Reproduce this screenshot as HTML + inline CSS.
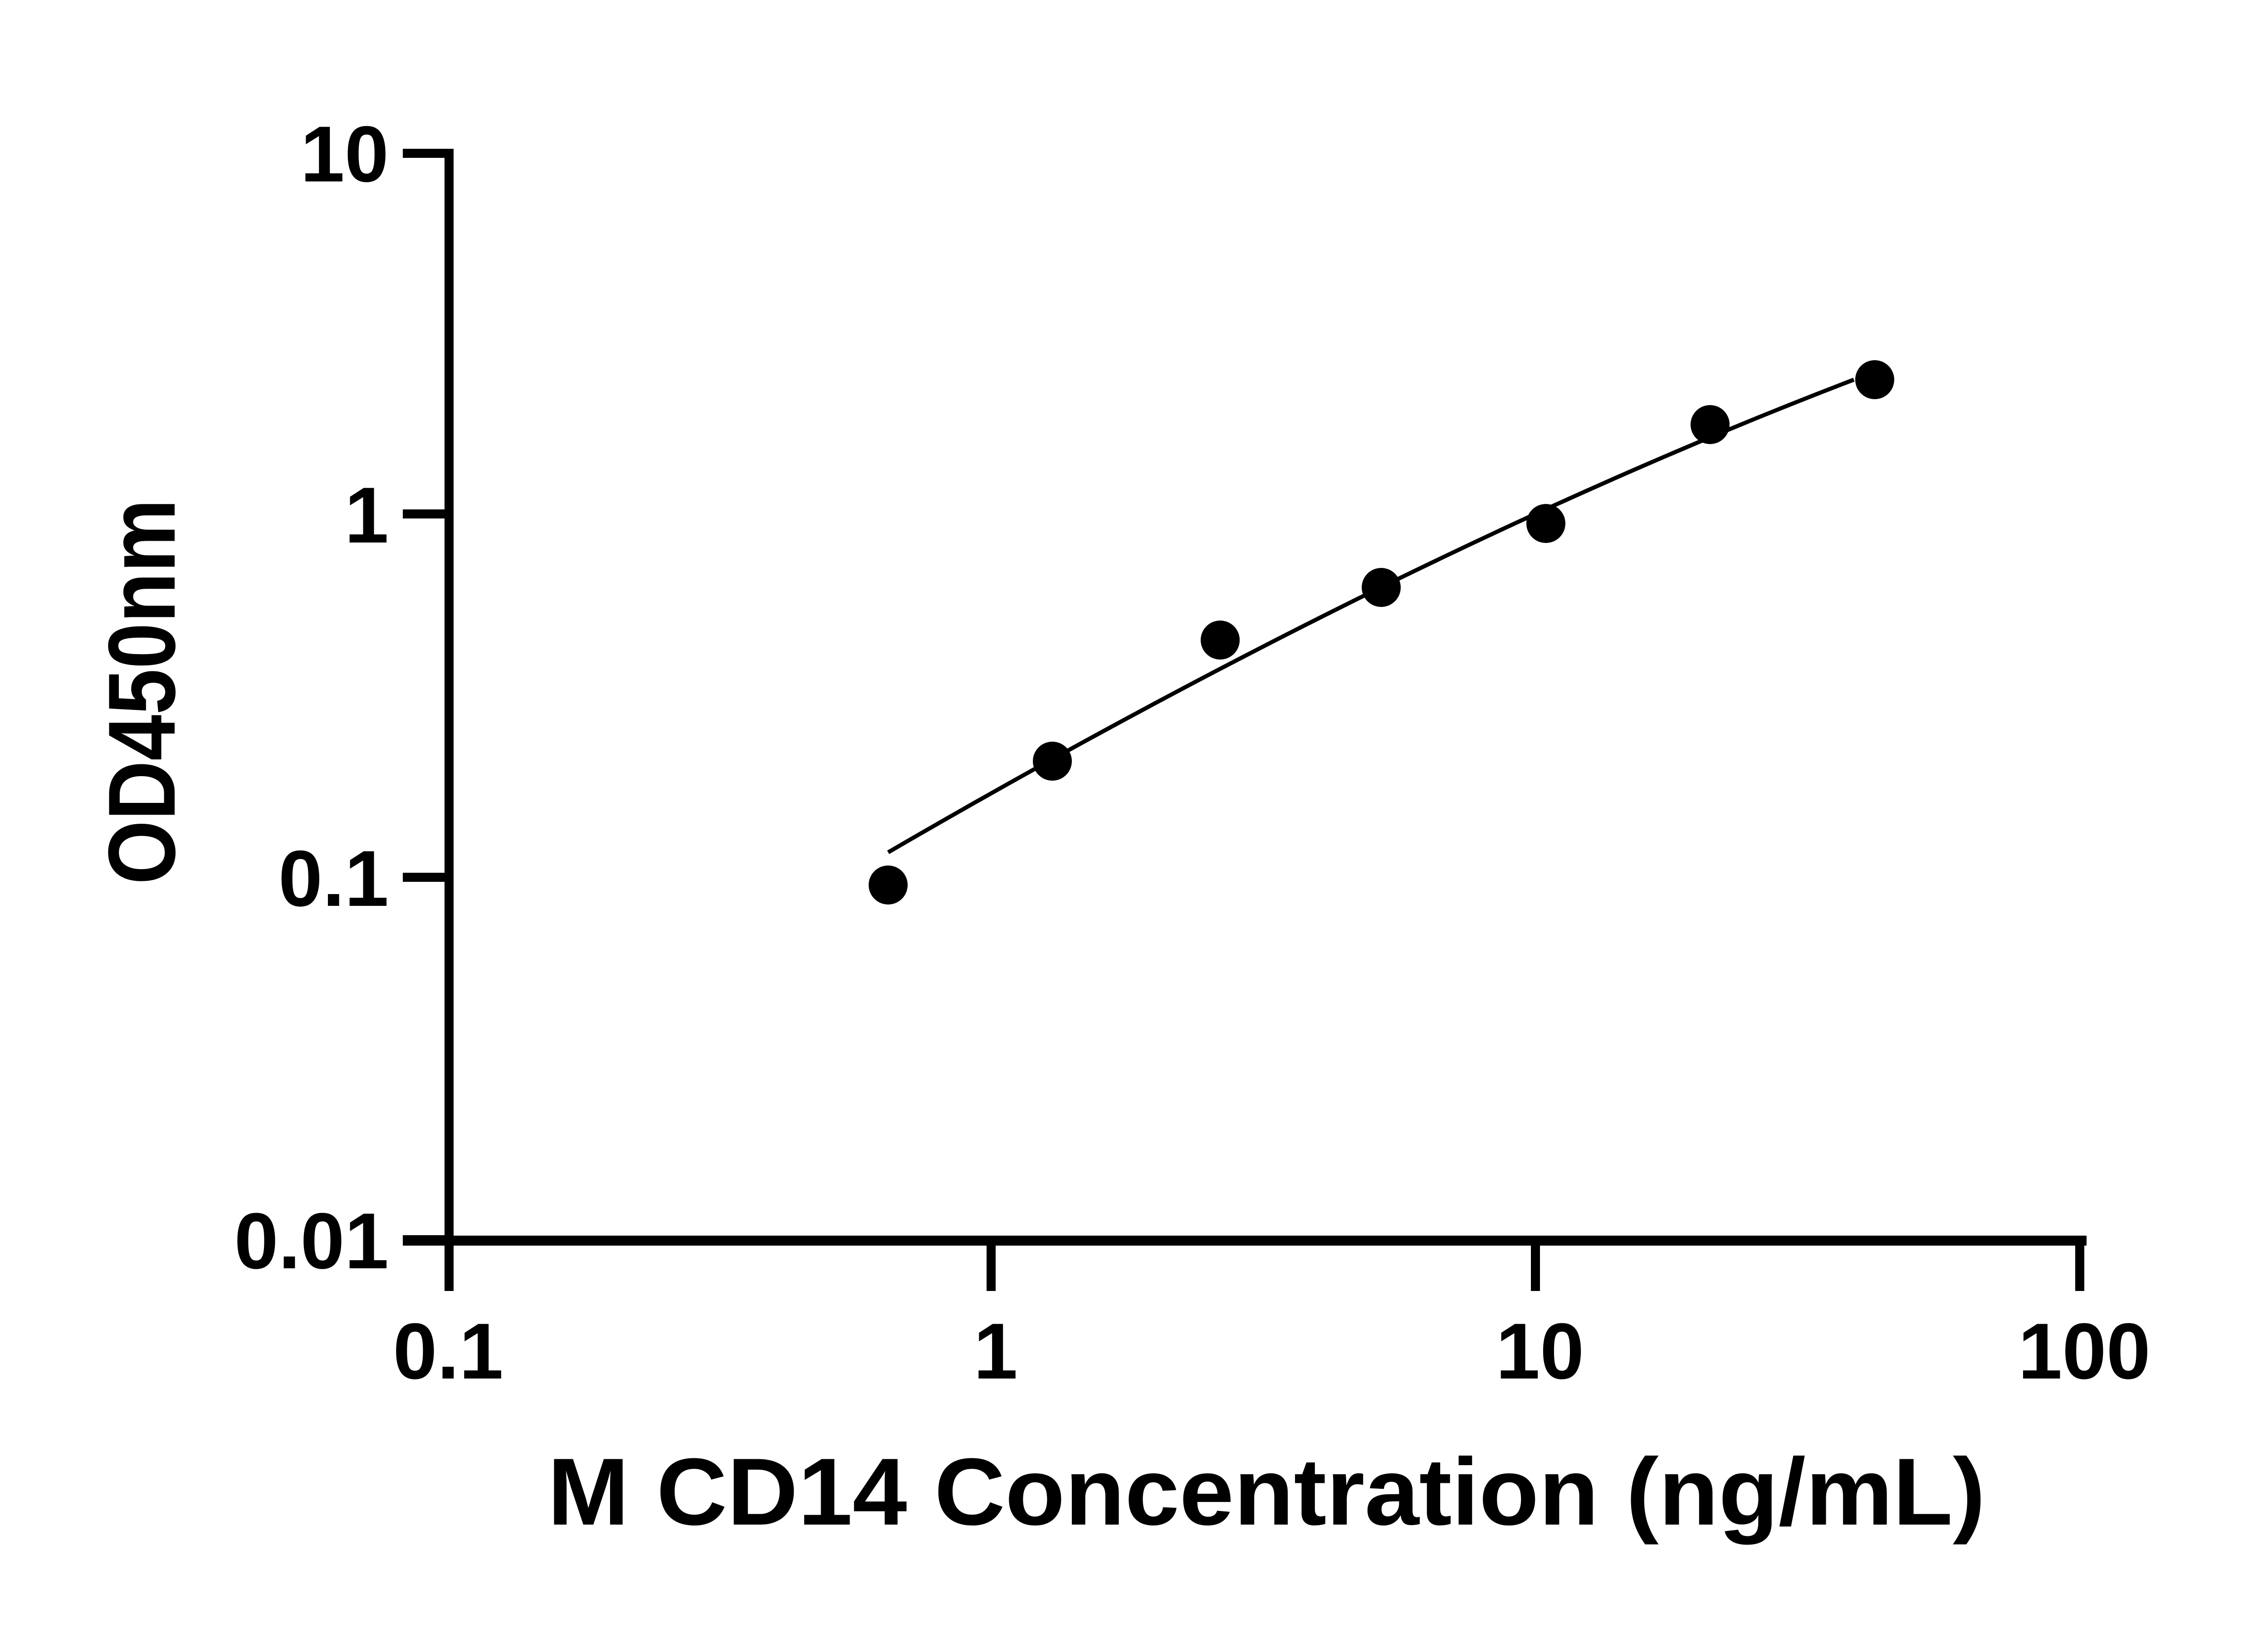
<!DOCTYPE html>
<html><head><style>html,body{margin:0;padding:0;background:#fff}</style></head>
<body>
<svg width="5142" height="3600" xmlns="http://www.w3.org/2000/svg" style="display:block">
<rect width="5142" height="3600" fill="#fff"/>
<g stroke="#000" stroke-width="20" fill="none">
<line x1="990" y1="328" x2="990" y2="2846"/>
<line x1="888" y1="2735" x2="4600" y2="2735" stroke-width="22"/>
<line x1="888" y1="338" x2="990" y2="338"/>
<line x1="888" y1="1133" x2="990" y2="1133"/>
<line x1="888" y1="1934" x2="990" y2="1934"/>
<line x1="888" y1="2733" x2="990" y2="2733"/>
<line x1="2185" y1="2735" x2="2185" y2="2846"/>
<line x1="3385" y1="2735" x2="3385" y2="2846"/>
<line x1="4585" y1="2725" x2="4585" y2="2846"/>
</g>
<path d="M1958,1879 Q3100,1215 4087,837" stroke="#000" stroke-width="9" fill="none"/>
<g fill="#000">
<circle cx="1958" cy="1951" r="43"/>
<circle cx="2320" cy="1678" r="43"/>
<circle cx="2690" cy="1411" r="43"/>
<circle cx="3045" cy="1295" r="43"/>
<circle cx="3408" cy="1154" r="43"/>
<circle cx="3770" cy="936" r="43"/>
<circle cx="4133" cy="837" r="43"/>
</g>
<g font-family="Liberation Sans, sans-serif" font-weight="bold" font-size="175" fill="#000">
<text x="857" y="400" text-anchor="end">10</text>
<text x="857" y="1196" text-anchor="end">1</text>
<text x="857" y="1997" text-anchor="end">0.1</text>
<text x="857" y="2796" text-anchor="end">0.01</text>
<text x="988" y="3039" text-anchor="middle">0.1</text>
<text x="2195" y="3039" text-anchor="middle">1</text>
<text x="3395" y="3039" text-anchor="middle">10</text>
<text x="4595" y="3039" text-anchor="middle">100</text>
</g>
<text x="2792" y="3361" text-anchor="middle" font-family="Liberation Sans, sans-serif" font-weight="bold" font-size="210" textLength="3170" lengthAdjust="spacingAndGlyphs">M CD14 Concentration (ng/mL)</text>
<text transform="translate(385,1525) rotate(-90)" text-anchor="middle" font-family="Liberation Sans, sans-serif" font-weight="bold" font-size="210" textLength="850" lengthAdjust="spacingAndGlyphs">OD450nm</text>
</svg>
</body></html>
